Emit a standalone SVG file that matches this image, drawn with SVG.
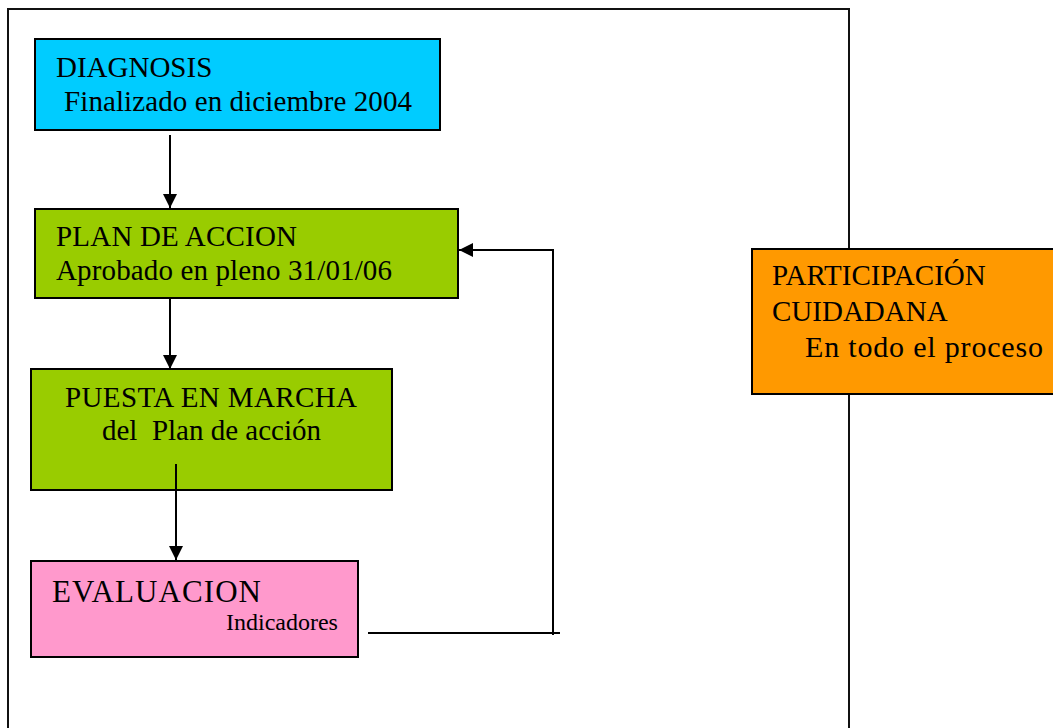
<svg xmlns="http://www.w3.org/2000/svg" width="1053" height="728" viewBox="0 0 1053 728">
<style>
.box{stroke:#000;stroke-width:2}
.t{font-family:"Liberation Serif","Times New Roman",serif;fill:#000}
.ln{stroke:#000;stroke-width:2;fill:none}
</style>
<defs>
<marker id="ah" markerUnits="userSpaceOnUse" markerWidth="16" markerHeight="16" refX="14" refY="7" orient="auto">
<path d="M0,0 L14,7 L0,14 Z" fill="#000"/>
</marker>
</defs>
<rect width="1053" height="728" fill="#fff"/>
<rect id="frame" x="8" y="9" width="841" height="740" fill="none" stroke="#111" stroke-width="2"/>
<g id="connectors">
<line class="ln" x1="170" y1="135" x2="170" y2="208" marker-end="url(#ah)"/>
<line class="ln" x1="170" y1="285" x2="170" y2="369" marker-end="url(#ah)"/>
<line class="ln" x1="176" y1="464" x2="176" y2="560" marker-end="url(#ah)"/>
<polyline class="ln" points="368,633 560,633"/>
<polyline class="ln" points="553,635 553,250 459,250" marker-end="url(#ah)"/>
</g>
<g id="diagnosis">
<rect class="box" x="35" y="39" width="405" height="91" fill="#00CCFF"/>
<text class="t" x="56" y="77" font-size="29">DIAGNOSIS</text>
<text class="t" x="64" y="111" font-size="29" textLength="348" lengthAdjust="spacing">Finalizado en diciembre 2004</text>
</g>
<g id="plan">
<rect class="box" x="35" y="209" width="423" height="89" fill="#99CC00"/>
<text class="t" x="56" y="246" font-size="29" textLength="241" lengthAdjust="spacing">PLAN DE ACCION</text>
<text class="t" x="56" y="280" font-size="29" textLength="336" lengthAdjust="spacing">Aprobado en pleno 31/01/06</text>
</g>
<g id="puesta">
<rect class="box" x="31" y="369" width="361" height="121" fill="#99CC00"/>
<text class="t" x="65" y="407" font-size="29" textLength="292" lengthAdjust="spacing">PUESTA EN MARCHA</text>
<text class="t" x="102" y="440" font-size="29" textLength="219" lengthAdjust="spacing" xml:space="preserve">del  Plan de acción</text>
</g>
<g id="puesta-arrow-over">
<line class="ln" x1="176" y1="464" x2="176" y2="490"/>
</g>
<g id="evaluacion">
<rect class="box" x="31" y="561" width="327" height="96" fill="#FF99CC"/>
<text class="t" x="52" y="602" font-size="31" textLength="209" lengthAdjust="spacing">EVALUACION</text>
<text class="t" x="226" y="630" font-size="24">Indicadores</text>
</g>
<g id="participacion">
<rect class="box" x="752" y="249" width="310" height="145" fill="#FF9900"/>
<text class="t" x="772" y="285" font-size="29">PARTICIPACIÓN</text>
<text class="t" x="772" y="321" font-size="29">CUIDADANA</text>
<text class="t" x="805" y="357" font-size="30" textLength="238" lengthAdjust="spacing">En todo el proceso</text>
</g>
</svg>
